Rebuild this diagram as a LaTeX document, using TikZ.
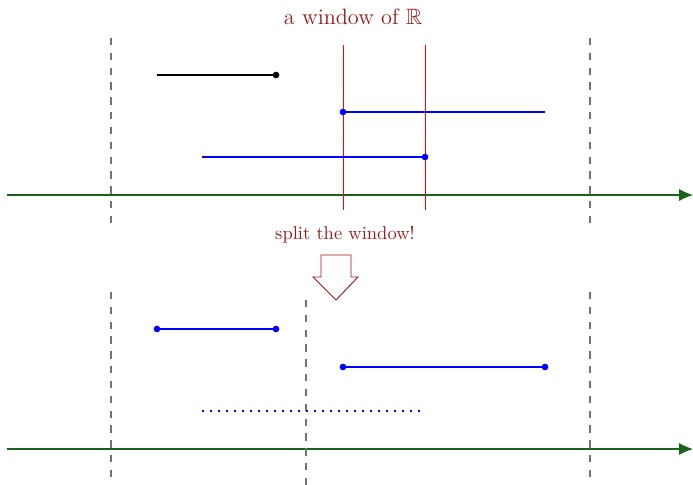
\documentclass[tikz,border=0pt]{standalone}
\usepackage{amssymb}
\usetikzlibrary{arrows.meta}
\definecolor{wred}{RGB}{150,28,28}
\definecolor{axisgreen}{RGB}{25,100,25}
\tikzset{
  x=0.54pt, y=-0.54pt,
  axis/.style={axisgreen, line width=0.6pt, -{Latex[length=7.5pt,width=6.5pt]}},
  win/.style={gray!90!black, line width=0.8pt, dash pattern=on 4pt off 4pt},
  cut/.style={red, line width=0.55pt},
  seg/.style={blue, line width=1.1pt},
  oldseg/.style={black, line width=1.1pt},
  dot/.style={circle, fill, inner sep=0pt, minimum size=3.6pt},
  caption/.style={text=wred, font=\normalsize},
}
\begin{document}
\begin{tikzpicture}
\useasboundingbox (0,0) rectangle (693,485);

% ---- top: the window ----
\node[caption, font=\large] (title) at (353,17) {a window of $\mathbb{R}$};
\coordinate (a0) at (7,195);   \coordinate (a1) at (693,195);
\draw[axis] (a0) -- (a1);
\coordinate (wl0) at (111,38); \coordinate (wl1) at (111,225);
\coordinate (wr0) at (590,38); \coordinate (wr1) at (590,225);
\draw[win] (wl0) -- (wl1);
\draw[win] (wr0) -- (wr1);
\coordinate (c10) at (343.5,45); \coordinate (c11) at (343.5,210);
\coordinate (c20) at (425.5,45); \coordinate (c21) at (425.5,210);
\draw[cut] (c10) -- (c11);
\draw[cut] (c20) -- (c21);

\coordinate (k0) at (157,75);
\node[dot, black] (k1) at (276,75) {};
\draw[oldseg] (k0) -- (k1.center);

\node[dot, blue] (b10) at (343,112) {};
\coordinate (b11) at (545,112);
\draw[seg] (b10.center) -- (b11);

\coordinate (b20) at (202,157);
\node[dot, blue] (b21) at (425,157) {};
\draw[seg] (b20) -- (b21.center);

% ---- the split arrow ----
\node[caption] (split) at (345,235) {split the window!};
\draw[wred, line width=0.5pt, fill=white]
  (321,255) -- (351,255) -- (351,277) -- (358,277) -- (336,300)
  -- (313,277) -- (321,277) -- cycle;

% ---- bottom: the split window ----
\coordinate (d0) at (7,449);   \coordinate (d1) at (693,449);
\draw[axis] (d0) -- (d1);
\coordinate (vl0) at (111,292); \coordinate (vl1) at (111,480);
\coordinate (vm0) at (306,300); \coordinate (vm1) at (306,485);
\coordinate (vr0) at (590,292); \coordinate (vr1) at (590,480);
\draw[win] (vl0) -- (vl1);
\draw[win] (vm0) -- (vm1);
\draw[win] (vr0) -- (vr1);

\node[dot, blue] (e10) at (157,329) {};
\node[dot, blue] (e11) at (276,329) {};
\draw[seg] (e10.center) -- (e11.center);

\node[dot, blue] (e20) at (343,367) {};
\node[dot, blue] (e21) at (545,367) {};
\draw[seg] (e20.center) -- (e21.center);

\coordinate (f0) at (202,411); \coordinate (f1) at (420,411);
\draw[blue, line width=1.08pt, dash pattern=on 1.08pt off 3.24pt] (f0) -- (f1);
\end{tikzpicture}
\end{document}
